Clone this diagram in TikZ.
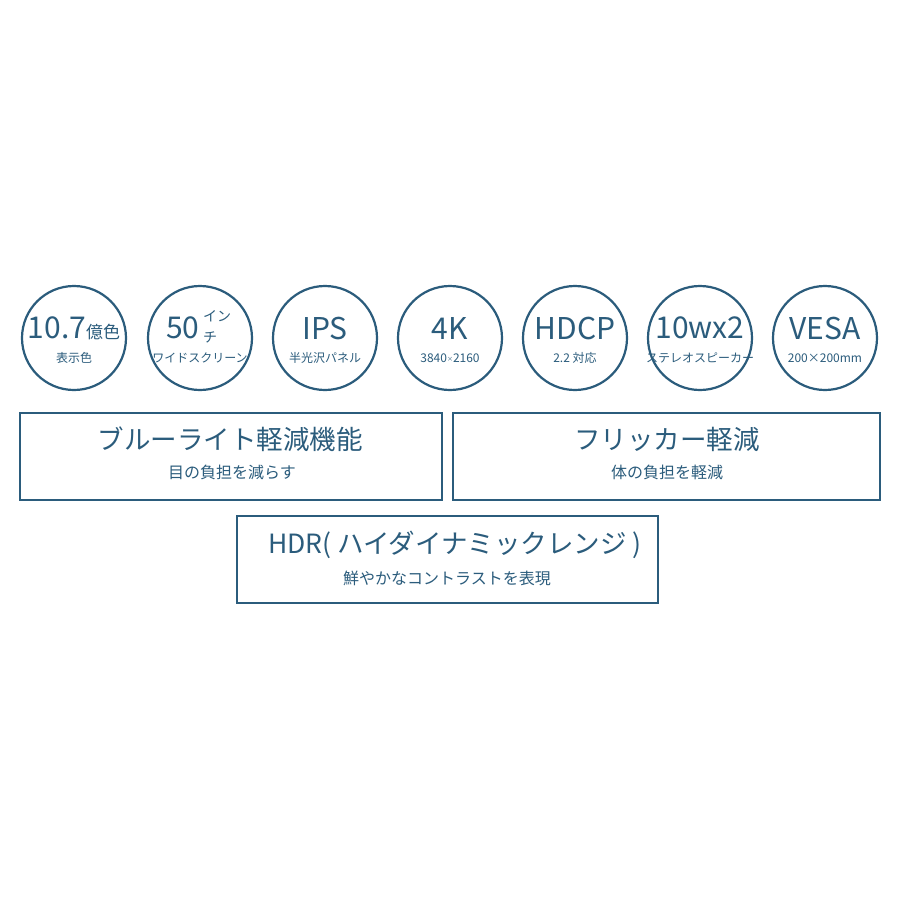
\documentclass[tikz,border=0pt]{standalone}
\usepackage{fontspec}
\setmainfont{Noto Sans CJK JP}
\definecolor{bl}{HTML}{2B5C7C}
\begin{document}
\begin{tikzpicture}[x=1pt,y=-1pt,
 circ/.style={draw=bl,line width=2.2pt,circle,minimum size=104pt,inner sep=0pt},
 big/.style={text=bl,font=\fontsize{30}{32}\selectfont},
 sml/.style={text=bl,font=\fontsize{12}{14}\selectfont},
 box/.style={draw=bl,line width=2pt},
 btitle/.style={text=bl,font=\fontsize{26.5}{28}\selectfont},
 bsub/.style={text=bl,font=\fontsize{16}{18}\selectfont}]
\fill[white] (0,0) rectangle (900,900);
\useasboundingbox (0,0) rectangle (900,900);
\foreach \x/\n in {74/c1,200/c2,325/c3,450/c4,575/c5,700/c6,825/c7}{\node[circ] (\n) at (\x,338) {};}
\node[big] (t1) at (74,328) {10.7{\fontsize{17}{19}\selectfont 億色}};
\node[sml] (s1) at (74,358) {表示色};
\node[big,anchor=east] (t2) at (203,328) {50};
\node[text=bl,font=\fontsize{14}{14}\selectfont,anchor=west,inner sep=0pt] (t2a) at (203,316) {イン};
\node[text=bl,font=\fontsize{14}{14}\selectfont,anchor=west,inner sep=0pt] (t2b) at (203,337) {チ};
\node[sml] (s2) at (200,358) {ワイドスクリーン};
\node[big] (t3) at (325,328) {IPS};
\node[sml] (s3) at (325,358) {半光沢パネル};
\node[big] (t4) at (450,328) {4K};
\node[sml] (s4) at (450,358) {3840\raisebox{1pt}{\fontsize{6}{6}\selectfont×}2160};
\node[big] (t5) at (575,328) {HDCP};
\node[sml] (s5) at (575,358) {2.2 対応};
\node[big] (t6) at (700,328) {10wx2};
\node[sml] (s6) at (700,358) {ステレオスピーカー};
\node[big] (t7) at (825,328) {VESA};
\node[sml] (s7) at (825,358) {200×200mm};
\draw[box] (20,413) rectangle (442,500);
\node[btitle] (b1) at (230,439) {ブルーライト軽減機能};
\node[bsub] (b1s) at (232,472) {目の負担を減らす};
\draw[box] (453,413) rectangle (880,500);
\node[btitle] (b2) at (667,439) {フリッカー軽減};
\node[bsub] (b2s) at (667,472) {体の負担を軽減};
\draw[box] (237,516) rectangle (658,603);
\node[btitle] (b3) at (455,545) {HDR( ハイダイナミックレンジ )};
\node[bsub] (b3s) at (447,578) {鮮やかなコントラストを表現};
\end{tikzpicture}
\end{document}
